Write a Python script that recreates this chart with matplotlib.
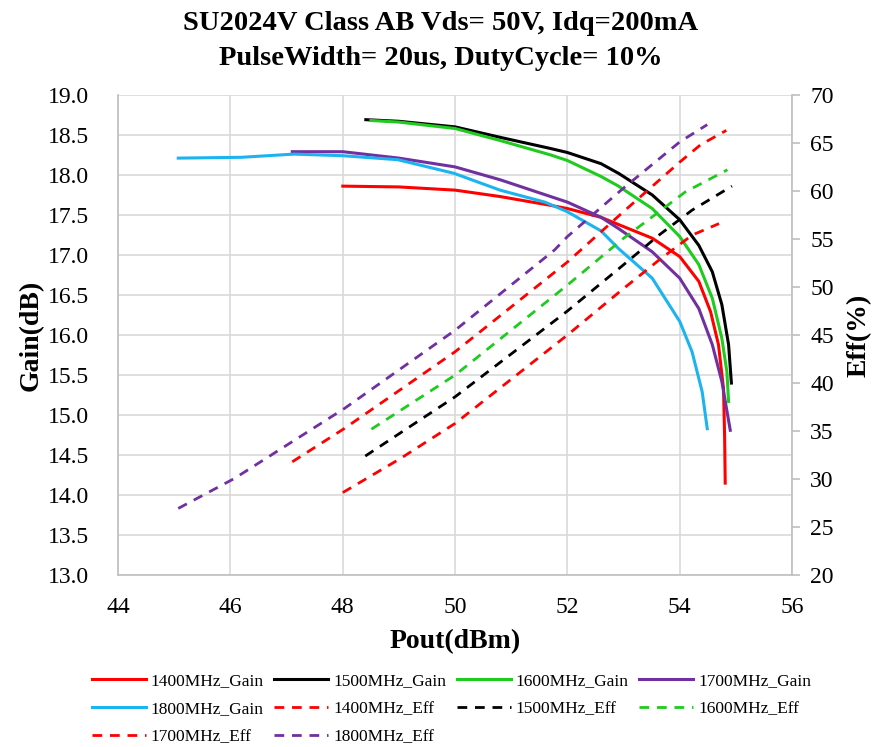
import matplotlib
matplotlib.use("Agg")
import matplotlib.pyplot as plt

plt.rcParams['font.family'] = ['Liberation Serif', 'DejaVu Serif']

# gain curves (Pout dBm, Gain dB)
x1400g = [48.0, 49.0, 50.0, 50.8, 51.7, 52.0, 52.6, 52.91, 53.51, 54.0, 54.34, 54.55, 54.69, 54.78, 54.8, 54.81]
g1400 = [17.86, 17.85, 17.81, 17.73, 17.62, 17.58, 17.47, 17.38, 17.21, 16.98, 16.67, 16.29, 15.88, 15.33, 14.71, 14.15]
x1500g = [48.41, 49.0, 50.0, 50.8, 51.7, 52.0, 52.6, 52.91, 53.51, 54.0, 54.34, 54.58, 54.75, 54.87, 54.92]
g1500 = [18.69, 18.67, 18.6, 18.47, 18.33, 18.28, 18.14, 18.02, 17.75, 17.44, 17.12, 16.79, 16.38, 15.88, 15.4]
x1600g = [48.5, 49.0, 50.0, 50.8, 51.7, 52.0, 52.6, 52.91, 53.51, 54.0, 54.34, 54.58, 54.75, 54.84, 54.87]
g1600 = [18.68, 18.66, 18.58, 18.43, 18.25, 18.18, 17.98, 17.86, 17.58, 17.23, 16.88, 16.46, 15.96, 15.54, 15.17]
x1700g = [47.1, 48.0, 49.0, 50.0, 50.8, 51.7, 52.0, 52.6, 52.91, 53.51, 54.0, 54.34, 54.58, 54.75, 54.9]
g1700 = [18.29, 18.29, 18.21, 18.1, 17.94, 17.73, 17.66, 17.47, 17.33, 17.04, 16.71, 16.33, 15.88, 15.42, 14.81]
x1800g = [45.07, 46.19, 47.13, 48.0, 48.98, 49.98, 50.8, 51.6, 52.0, 52.6, 52.91, 53.51, 54.0, 54.22, 54.4, 54.49]
g1800 = [18.21, 18.22, 18.26, 18.24, 18.19, 18.02, 17.81, 17.66, 17.54, 17.3, 17.08, 16.71, 16.17, 15.79, 15.29, 14.83]

# efficiency curves (Pout dBm, Eff %)
x1400e = [48.0, 49.03, 50.0, 52.0, 52.97, 53.63, 54.22, 54.7]
e1400 = [28.6, 32.16, 35.8, 45.0, 49.7, 52.8, 55.4, 56.6]
x1500e = [48.4, 50.0, 52.0, 53.03, 53.63, 54.22, 54.93]
e1500 = [32.4, 38.57, 47.5, 52.46, 55.4, 58.0, 60.5]
x1600e = [48.51, 50.0, 52.0, 53.0, 53.51, 54.1, 54.85]
e1600 = [35.2, 40.83, 50.2, 55.07, 57.3, 59.9, 62.2]
x1700e = [47.1, 48.03, 50.0, 52.0, 53.0, 54.0, 54.37, 54.83]
e1700 = [31.8, 35.28, 43.26, 52.6, 57.85, 63.0, 64.8, 66.3]
x1800e = [45.07, 46.07, 48.03, 50.0, 51.77, 52.0, 53.0, 54.0, 54.49]
e1800 = [26.95, 30.07, 37.36, 45.5, 53.85, 55.25, 60.3, 65.1, 66.9]

red = "#ff0000"
black = "#000000"
green = "#1ecb1e"
purple = "#7030a0"
blue = "#1cb4f0"
grid_c = "#d9d9d9"
spine_c = "#bfbfbf"

fig = plt.figure(figsize=(8.82, 7.47), dpi=100)
ax = fig.add_axes([0.134, 0.230, 0.764, 0.643])
ax2 = ax.twinx()

lw = 2.2
h = {}
h['1400G'], = ax.plot(x1400g, g1400, color=red, lw=lw, label="1400MHz_Gain")
h['1500G'], = ax.plot(x1500g, g1500, color=black, lw=lw, label="1500MHz_Gain")
h['1600G'], = ax.plot(x1600g, g1600, color=green, lw=lw, label="1600MHz_Gain")
h['1700G'], = ax.plot(x1700g, g1700, color=purple, lw=lw, label="1700MHz_Gain")
h['1800G'], = ax.plot(x1800g, g1800, color=blue, lw=lw, label="1800MHz_Gain")

dl = dict(lw=2.0, linestyle=(0, (3.5, 2.8)))
h['1400E'], = ax2.plot(x1400e, e1400, color=red, label="1400MHz_Eff", **dl)
h['1500E'], = ax2.plot(x1500e, e1500, color=black, label="1500MHz_Eff", **dl)
h['1600E'], = ax2.plot(x1600e, e1600, color=green, label="1600MHz_Eff", **dl)
h['1700E'], = ax2.plot(x1700e, e1700, color=red, label="1700MHz_Eff", **dl)
h['1800E'], = ax2.plot(x1800e, e1800, color=purple, label="1800MHz_Eff", **dl)

ax.set_xlim(44, 56)
ax.set_ylim(13, 19)
ax.set_xticks(range(44, 57, 2))
ax.set_yticks([13 + 0.5 * i for i in range(13)])
ax.set_yticklabels([f"{13 + 0.5 * i:.1f}" for i in range(13)])
ax2.set_ylim(20, 70)
ax2.set_yticks(range(20, 71, 5))

ax.grid(True, color=grid_c, lw=1.2)
ax.set_axisbelow(True)
for a in (ax, ax2):
    for s in a.spines.values():
        s.set_color(spine_c)
        s.set_linewidth(1.2)
    a.spines['top'].set_visible(False)
ax2.spines['left'].set_visible(False)
ax2.spines['bottom'].set_visible(False)
ax.spines['right'].set_visible(False)

ax.tick_params(axis='y', length=0, labelsize=17, pad=21)
ax.tick_params(axis='x', length=0, labelsize=17, pad=16)
ax2.tick_params(axis='y', length=6, color=spine_c, width=1.2, labelsize=17, pad=7)

ax.set_xlabel("Pout(dBm)", fontsize=20, fontweight='bold', labelpad=8)
ax.set_ylabel("Gain(dB)", fontsize=20, fontweight='bold', labelpad=3)
ax2.set_ylabel("Eff(%)", fontsize=20, fontweight='bold', labelpad=9)

fig.text(0.5, 0.985, "SU2024V Class AB Vds= 50V, Idq=200mA\nPulseWidth= 20us, DutyCycle= 10%",
         ha='center', va='top', fontsize=20.5, fontweight='bold', linespacing=1.5)

order = ['1400G', '1800G', '1700E', '1500G', '1400E', '1800E', '1600G', '1500E', '1700G', '1600E']
fig.legend([h[k] for k in order], [h[k].get_label() for k in order],
           ncol=4, loc='upper center', bbox_to_anchor=(0.512, 0.12), frameon=False,
           fontsize=12.5, handlelength=3.1, columnspacing=0.6, labelspacing=0.68, handletextpad=0.3)

fig.savefig("out.png", dpi=100)
